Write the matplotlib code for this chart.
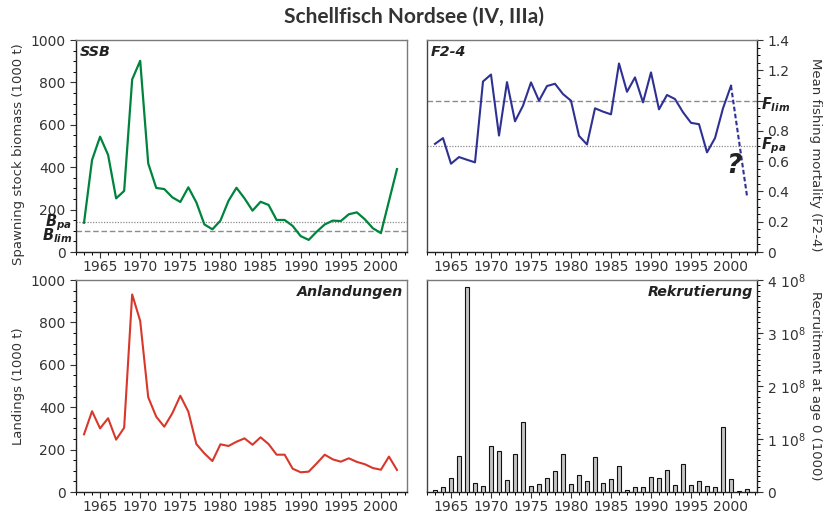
"""
Schellfisch Nordsee (IV, IIIa): SSB, F2-4, landings and recruitment, 4-panel figure.
"""

import matplotlib
matplotlib.use("Agg")
import matplotlib.pyplot as plt
from matplotlib.ticker import MultipleLocator

plt.rcParams["font.family"] = ["DejaVu Sans"]
plt.rcParams["mathtext.fontset"] = "custom"
plt.rcParams["mathtext.rm"] = "DejaVu Sans"
plt.rcParams["mathtext.it"] = "DejaVu Sans:italic:bold"
plt.rcParams["mathtext.bf"] = "DejaVu Sans:bold"

# --- data ---
ssb_years = list(range(1963, 2001)) + [2002]
ssb = [138, 434, 544, 458, 253, 288, 814, 902, 418, 302, 297, 258, 236, 305,
       234, 130, 107, 148, 241, 303, 253, 195, 237, 222, 151, 151, 123, 75,
       57, 96, 130, 148, 146, 178, 187, 154, 112, 89, 391]
b_pa = 140
b_lim = 100

f_years = list(range(1963, 2001))
f24 = [0.714, 0.752, 0.583, 0.627, 0.609, 0.592, 1.126, 1.172, 0.769, 1.122,
       0.863, 0.966, 1.12, 0.999, 1.096, 1.111, 1.043, 0.999, 0.767, 0.710,
       0.949, 0.927, 0.909, 1.245, 1.058, 1.153, 0.988, 1.186, 0.942, 1.037,
       1.010, 0.923, 0.853, 0.844, 0.658, 0.752, 0.949, 1.098]
f_proj_years = [2000, 2002]
f_proj = [1.098, 0.37]
f_pa = 0.7
f_lim = 1.0

land_years = list(range(1963, 2003))
landings = [272, 381, 300, 348, 247, 303, 932, 807, 447, 355, 308, 371, 454,
            379, 226, 182, 146, 225, 217, 237, 253, 223, 258, 226, 176, 176,
            110, 93, 96, 135, 176, 154, 143, 159, 142, 131, 113, 105, 167, 104]

rec_years = list(range(1963, 2003))
# recruitment at age 0, in units of 1e8 (thousands)
recruits = [0.03, 0.09, 0.26, 0.68, 3.86, 0.17, 0.11, 0.87, 0.77, 0.22, 0.72,
            1.32, 0.11, 0.16, 0.26, 0.40, 0.71, 0.16, 0.32, 0.21, 0.66, 0.17,
            0.24, 0.49, 0.04, 0.09, 0.09, 0.28, 0.27, 0.41, 0.13, 0.53, 0.13,
            0.20, 0.12, 0.09, 1.23, 0.24, 0.02, 0.05]

year_ticks = [1965, 1970, 1975, 1980, 1985, 1990, 1995, 2000]

GREEN = "#00843d"
BLUE = "#2e3192"
RED = "#d7382b"
REFGRAY = "#8c8c8c"
FRAME = "#7a7a7a"
TXT = "#222222"
LBL = "#333333"

W, H = 829, 515
fig = plt.figure(figsize=(W / 100, H / 100), dpi=100)


def px_axes(left, top, right, bottom):
    return fig.add_axes([left / W, 1 - bottom / H, (right - left) / W, (bottom - top) / H])


def style_axes(ax, side):
    ax.set_xlim(1962, 2003.25)
    ax.set_xticks(year_ticks)
    ax.set_xticklabels([str(y) for y in year_ticks])
    ax.xaxis.set_minor_locator(MultipleLocator(1))
    ax.tick_params(axis="both", which="major", direction="out", length=4,
                   width=0.8, labelsize=10, colors=LBL)
    ax.tick_params(axis="both", which="minor", direction="out", length=2.5, width=0.7)
    ax.tick_params(axis="x", pad=2)
    for s in ax.spines.values():
        s.set_color(FRAME)
        s.set_linewidth(1.0)
    ax.spines["bottom"].set_color("#222222")
    if side == "right":
        ax.yaxis.tick_right()
        ax.yaxis.set_label_position("right")
        ax.spines["right"].set_color("#222222")
        ax.spines["left"].set_color("#444444")
    else:
        ax.spines["left"].set_color("#222222")


def panel_title(ax, text, loc):
    x, ha = (0.012, "left") if loc == "left" else (0.988, "right")
    ax.text(x, 0.975, text, transform=ax.transAxes, ha=ha, va="top",
            fontsize=10.3, fontweight="bold", fontstyle="italic", color=TXT)


# SSB
ax1 = px_axes(76, 40, 407, 252)
style_axes(ax1, "left")
ax1.plot(ssb_years, ssb, color=GREEN, lw=1.6, zorder=3)
ax1.axhline(b_pa, color=REFGRAY, lw=0.9, ls=(0, (1, 1.2)))
ax1.axhline(b_lim, color=REFGRAY, lw=1.0, ls=(0, (4, 2)))
ax1.set_ylim(0, 1000)
ax1.yaxis.set_major_locator(MultipleLocator(200))
ax1.yaxis.set_minor_locator(MultipleLocator(50))
ax1.set_ylabel("Spawning stock biomass (1000 t)", fontsize=9.5, color=LBL, va="center")
ax1.yaxis.set_label_coords(-0.175, 0.46)
ax1.text(-0.012, 136, r"$B_{pa}$", transform=ax1.get_yaxis_transform(),
         ha="right", va="center", fontsize=10.5, color=TXT)
ax1.text(-0.012, 76, r"$B_{lim}$", transform=ax1.get_yaxis_transform(),
         ha="right", va="center", fontsize=10.5, color=TXT)
panel_title(ax1, "SSB", "left")

# F2-4
ax2 = px_axes(427, 40, 757, 252)
style_axes(ax2, "right")
ax2.plot(f_years, f24, color=BLUE, lw=1.5, zorder=3)
ax2.plot(f_proj_years, f_proj, color=BLUE, lw=1.5, ls=(0, (2.2, 1.2)), zorder=3)
ax2.axhline(f_lim, color=REFGRAY, lw=1.0, ls=(0, (4, 2)))
ax2.axhline(f_pa, color=REFGRAY, lw=0.9, ls=(0, (1, 1.2)))
ax2.set_ylim(0, 1.4)
ax2.set_yticks([0, 0.2, 0.4, 0.6, 0.8, 1.0, 1.2, 1.4])
ax2.set_yticklabels(["0", "0.2", "0.4", "0.6", "0.8", "", "1.2", "1.4"])
ax2.yaxis.set_minor_locator(MultipleLocator(0.05))
ax2.set_ylabel("Mean fishing mortality (F2-4)", fontsize=9.5, color=LBL,
               rotation=270, va="center")
ax2.yaxis.set_label_coords(1.176, 0.46)
ax2.text(1.012, 0.975, r"$F_{lim}$", transform=ax2.get_yaxis_transform(),
         ha="left", va="center", fontsize=10.5, color=TXT)
ax2.text(1.012, 0.705, r"$F_{pa}$", transform=ax2.get_yaxis_transform(),
         ha="left", va="center", fontsize=10.5, color=TXT)
ax2.text(2000.4, 0.57, "?", ha="center", va="center", fontsize=19,
         fontweight="bold", fontstyle="italic", color=TXT)
panel_title(ax2, "F2-4", "left")

# Landings
ax3 = px_axes(76, 280, 407, 492)
style_axes(ax3, "left")
ax3.plot(land_years, landings, color=RED, lw=1.5, zorder=3)
ax3.set_ylim(0, 1000)
ax3.yaxis.set_major_locator(MultipleLocator(200))
ax3.yaxis.set_minor_locator(MultipleLocator(50))
ax3.set_ylabel("Landings (1000 t)", fontsize=9.5, color=LBL, va="center")
ax3.yaxis.set_label_coords(-0.175, 0.5)
panel_title(ax3, "Anlandungen", "right")

# Recruitment
ax4 = px_axes(427, 280, 757, 492)
style_axes(ax4, "right")
ax4.bar(rec_years, recruits, width=0.62, color="#c4c4c4", edgecolor="#111111",
        linewidth=0.8, zorder=3)
ax4.set_ylim(0, 4)
ax4.set_yticks([0, 1, 2, 3, 4])
ax4.set_yticklabels(["0", r"1 $10^{8}$", r"2 $10^{8}$", r"3 $10^{8}$", r"4 $10^{8}$"])
ax4.yaxis.set_minor_locator(MultipleLocator(0.1))
ax4.set_ylabel("Recruitment at age 0 (1000)", fontsize=9.5, color=LBL,
               rotation=270, va="center")
ax4.yaxis.set_label_coords(1.176, 0.5)
panel_title(ax4, "Rekrutierung", "right")

fig.text(0.5, 1 - 17 / H, "Schellfisch Nordsee (IV, IIIa)", ha="center", va="center",
         fontsize=15, fontweight="bold", family="Lato", color="#333333")

fig.savefig("out.png", dpi=100)
